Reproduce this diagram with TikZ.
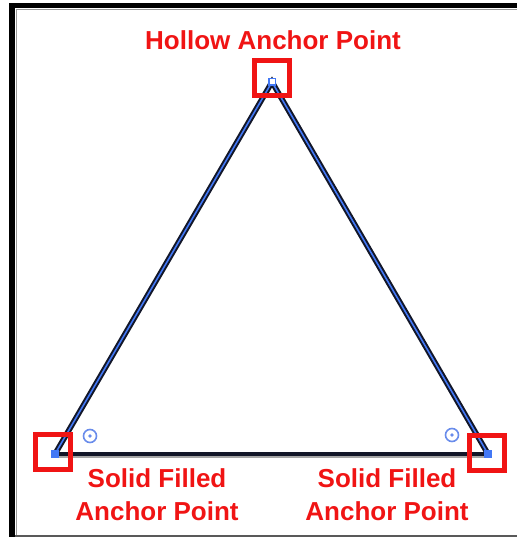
\documentclass[tikz,border=0pt]{standalone}
\usepackage{fontspec}
\setmainfont{Liberation Sans}
\usetikzlibrary{positioning,backgrounds}
\definecolor{anchorblue}{RGB}{66,120,245}
\definecolor{targetblue}{RGB}{105,140,235}
\definecolor{calloutred}{RGB}{240,20,20}
\definecolor{pathnavy}{RGB}{18,22,40}
\tikzset{
  hollowpt/.style={rectangle, draw=anchorblue, fill=white, line width=1.5pt,
                   minimum size=6.5pt, inner sep=0pt},
  solidpt/.style ={rectangle, fill=anchorblue, minimum size=8.5pt, inner sep=0pt},
  markbox/.style ={rectangle, draw=calloutred, line width=5pt,
                   minimum size=35pt, inner sep=0pt},
  targetmk/.style={circle, draw=targetblue, line width=1.6pt, minimum size=13pt,
                   inner sep=0pt,
                   path picture={\fill[targetblue] (path picture bounding box.center) circle (1.9pt);}},
  callout/.style ={text=calloutred, font=\fontsize{26}{33}\selectfont\bfseries,
                   inner sep=0pt, align=center},
  sideline/.style={draw=pathnavy, line width=2pt, double=anchorblue,
                   double distance=1.6pt, line join=miter},
  baseline/.style={draw=pathnavy, line width=3.2pt,
                   preaction={draw=black!35, line width=5pt, transform canvas={yshift=-1pt}}},
}
\begin{document}
\begin{tikzpicture}[x=1pt, y=-1pt]
  \useasboundingbox (0,0) rectangle (517,537);
  % frame
  \fill[black] (9,3) rectangle (517,8.5);
  \fill[black] (9,3) rectangle (15,537);
  \draw[black!40, line width=1pt] (16,537) -- (16,9.5) -- (517,9.5);
  \draw[black!65, line width=2pt] (15,535.5) -- (517,535.5);

  % anchor points
  \node[hollowpt] (apex)  at (272,82)  {};
  \node[solidpt]  (lftpt) at (55,454)  {};
  \node[solidpt]  (rgtpt) at (488,454) {};

  \begin{scope}[on background layer]
    \draw[baseline] (lftpt.center) -- (rgtpt.center);
    \draw[sideline] (lftpt.center) -- (apex.center) -- (rgtpt.center);
  \end{scope}

  \node[targetmk] (lfttarget) at (90,436)  {};
  \node[targetmk] (rgttarget) at (452,435) {};

  % red boxes
  \node[markbox] (apexbox) at (272,78)  {};
  \node[markbox] (lftbox)  at (53,452)  {};
  \node[markbox] (rgtbox)  at (487,453) {};

  % labels
  \node[callout] (toplbl) at (273,40)  {Hollow Anchor Point};
  \node[callout] (lftlbl) at (157,495) {Solid Filled\\Anchor Point};
  \node[callout] (rgtlbl) at (387,495) {Solid Filled\\Anchor Point};
\end{tikzpicture}
\end{document}
